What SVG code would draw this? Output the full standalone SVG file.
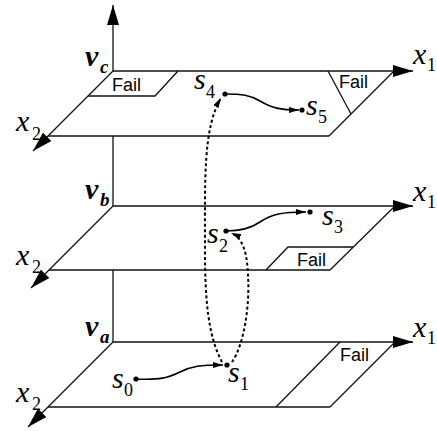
<svg xmlns="http://www.w3.org/2000/svg" width="437" height="431" viewBox="0 0 437 431">
<style>
.ln{stroke:#111;stroke-width:1.3;fill:none}
.ax{stroke:#111;stroke-width:1.3;fill:none;marker-end:url(#axArrow)}
.fail{font-family:'Liberation Sans',Arial,sans-serif;font-size:18px;fill:#000}
.it{font-family:'Liberation Serif','Times New Roman',serif;font-style:italic;font-size:30px;fill:#000}
.sub{font-family:'Liberation Serif','Times New Roman',serif;font-size:18px;fill:#000}
.subi{font-family:'Liberation Serif','Times New Roman',serif;font-style:italic;font-weight:bold;font-size:19px;fill:#000}
.v{font-family:'Liberation Serif','Times New Roman',serif;font-style:italic;font-weight:bold;font-size:30px;fill:#000}
.tr{stroke:#000;stroke-width:1.6;fill:none;marker-end:url(#trArrow)}
.jump{stroke:#000;stroke-width:2;fill:none;stroke-dasharray:3 2.5;marker-end:url(#trArrow)}
.dot{fill:#000}
</style>
<defs>
<marker id="axArrow" viewBox="0 0 20 12" refX="20" refY="6" markerWidth="20" markerHeight="12" markerUnits="userSpaceOnUse" orient="auto">
<path d="M0,0 L20,6 L0,12 z" fill="#000"/>
</marker>
<marker id="trArrow" viewBox="0 0 10 6" refX="10" refY="3" markerWidth="10" markerHeight="6" markerUnits="userSpaceOnUse" orient="auto">
<path d="M0,0 L10,3 L0,6 z" fill="#000"/>
</marker>
</defs>

<g id="axis-v">
<line class="ax" x1="113" y1="71" x2="113" y2="5"/>
<line class="ln" x1="113" y1="136" x2="113" y2="206"/>
<line class="ln" x1="113" y1="270" x2="113" y2="342"/>
</g>

<g id="plane-c">
<line class="ax" x1="113" y1="71" x2="413" y2="71"/>
<line class="ax" x1="113" y1="71" x2="33" y2="151"/>
<line class="ln" x1="48" y1="136" x2="329" y2="136"/>
<line class="ln" x1="329" y1="136" x2="394" y2="71"/>
<path class="ln" d="M178,71 L155,96 L88,96"/>
<line class="ln" x1="328" y1="71" x2="351" y2="114"/>
<text class="fail" x="112" y="91">Fail</text>
<text class="fail" x="339" y="88">Fail</text>
<text class="v" x="85" y="66">v</text><text class="subi" x="100" y="73">c</text>
<text class="it" x="413" y="64">x</text><text class="sub" x="427" y="71">1</text>
<text class="it" x="16" y="131">x</text><text class="sub" x="32" y="140">2</text>
</g>

<g id="plane-b">
<line class="ax" x1="113" y1="206" x2="413" y2="206"/>
<line class="ax" x1="113" y1="206" x2="31" y2="288"/>
<line class="ln" x1="49" y1="270" x2="330" y2="270"/>
<line class="ln" x1="330" y1="270" x2="395" y2="206"/>
<path class="ln" d="M266,270 L288,247 L353,247"/>
<text class="fail" x="297" y="266">Fail</text>
<text class="v" x="85" y="199">v</text><text class="subi" x="100" y="206">b</text>
<text class="it" x="413" y="201">x</text><text class="sub" x="427" y="208">1</text>
<text class="it" x="16" y="265">x</text><text class="sub" x="32" y="273">2</text>
</g>

<g id="plane-a">
<line class="ax" x1="113" y1="342" x2="413" y2="342"/>
<line class="ax" x1="113" y1="342" x2="28" y2="427"/>
<line class="ln" x1="48" y1="407" x2="330" y2="407"/>
<line class="ln" x1="330" y1="407" x2="395" y2="342"/>
<line class="ln" x1="340" y1="342" x2="276" y2="407"/>
<text class="fail" x="340" y="361">Fail</text>
<text class="v" x="85" y="336">v</text><text class="subi" x="100" y="343">a</text>
<text class="it" x="413" y="337">x</text><text class="sub" x="427" y="344">1</text>
<text class="it" x="16" y="402">x</text><text class="sub" x="32" y="410">2</text>
</g>

<g id="s0"><circle class="dot" cx="136" cy="379" r="2.6"/><text class="it" x="112" y="388">s</text><text class="sub" x="124" y="396">0</text></g>
<g id="s1"><circle class="dot" cx="227" cy="365" r="2.6"/><text class="it" x="228" y="382">s</text><text class="sub" x="240" y="390">1</text></g>
<g id="s2"><circle class="dot" cx="226" cy="231" r="2.6"/><text class="it" x="207" y="243">s</text><text class="sub" x="219" y="252">2</text></g>
<g id="s3"><circle class="dot" cx="310" cy="212" r="2.6"/><text class="it" x="322" y="225">s</text><text class="sub" x="334" y="233">3</text></g>
<g id="s4"><circle class="dot" cx="225" cy="94" r="2.6"/><text class="it" x="194" y="89">s</text><text class="sub" x="206" y="98">4</text></g>
<g id="s5"><circle class="dot" cx="302" cy="110" r="2.6"/><text class="it" x="306" y="115">s</text><text class="sub" x="318" y="123">5</text></g>

<g id="connectors">
<path class="tr" d="M136,379 C160,380 168,378 180,372 C192,366 200,365 223,365"/>
<path class="tr" d="M225,94 C242,94 250,95 260,101 C272,108 280,110 299,110"/>
<path class="tr" d="M226,231 C240,231 250,229 260,222 C272,214 282,212 306,212"/>
<path class="jump" d="M222,362 C208,336 205,300 205,250 C205,180 203,128 221,98"/>
<path class="jump" d="M232,362 C244,345 250,305 248,275 C247,252 243,238 231,233"/>
</g>
</svg>
